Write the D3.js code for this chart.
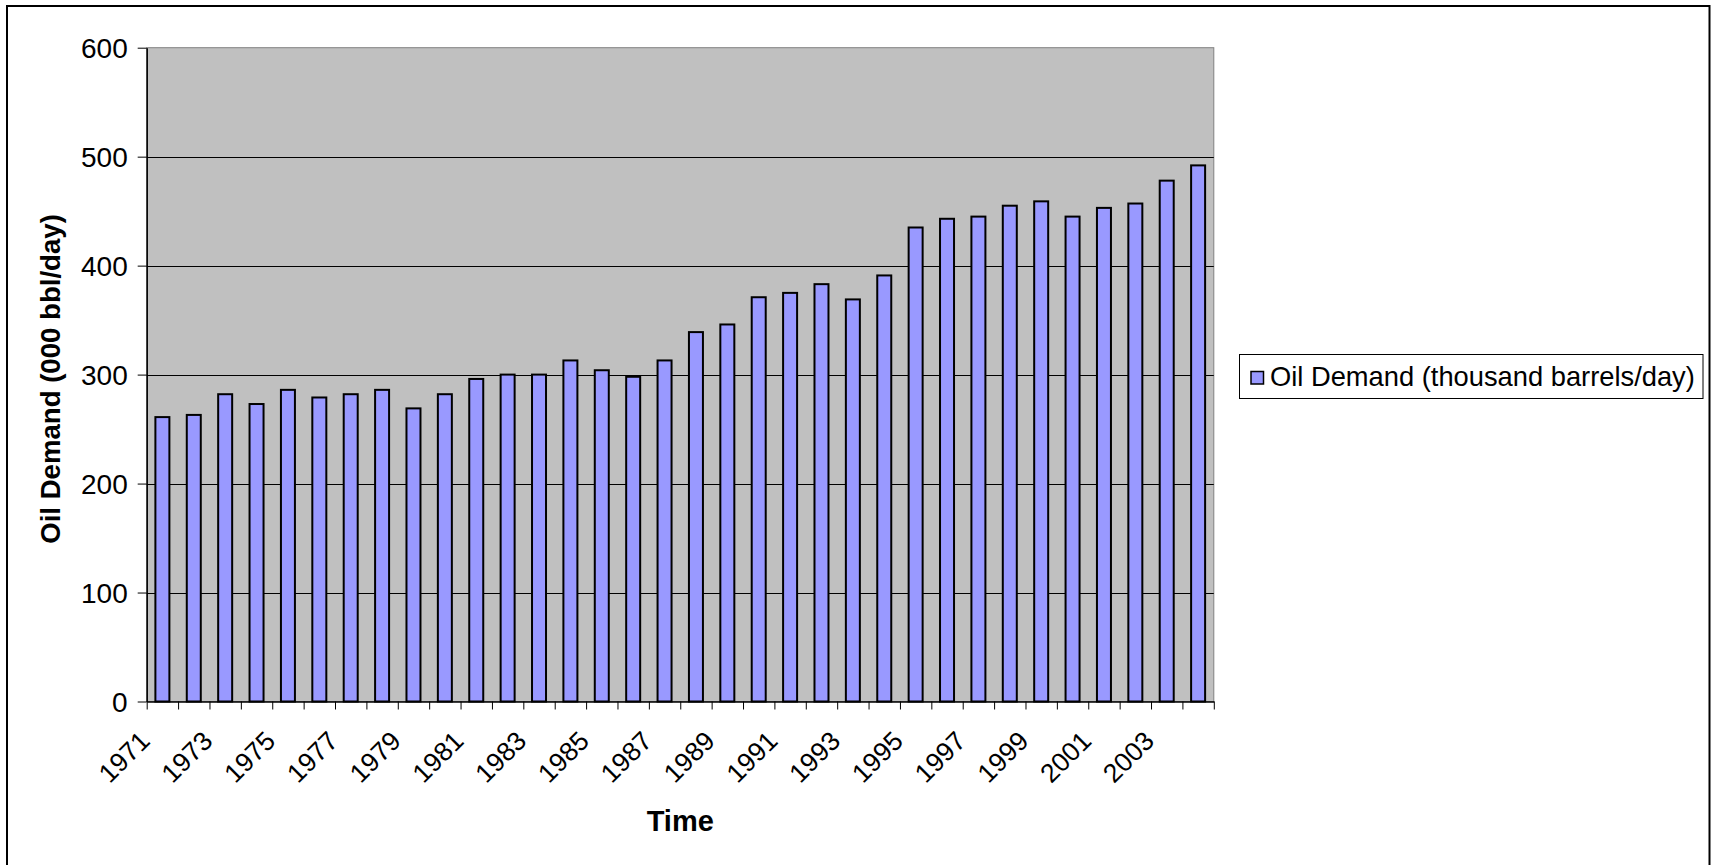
<!DOCTYPE html>
<html>
<head>
<meta charset="utf-8">
<script src="https://cdn.jsdelivr.net/npm/d3@7"></script>
<style>
  html, body { margin: 0; padding: 0; background: #ffffff; }
  svg { display: block; }
  text { font-family: "Liberation Sans", Arial, sans-serif; fill: #000; }
</style>
</head>
<body>
<svg id="chart" width="1713" height="865"></svg>
<script>
// Annual oil demand, thousand barrels per day
const years = [
  "1971","1972","1973","1974","1975","1976","1977","1978","1979","1980",
  "1981","1982","1983","1984","1985","1986","1987","1988","1989","1990",
  "1991","1992","1993","1994","1995","1996","1997","1998","1999","2000",
  "2001","2002","2003","2004"
];
const demand = [
  261, 263, 282, 273, 286, 279, 282, 286, 269, 282,
  296, 300, 300, 313, 304, 298, 313, 339, 346, 371,
  375, 383, 369, 391, 435, 443, 445, 455, 459, 445,
  453, 457, 478, 492
];
const yTicks = [0, 100, 200, 300, 400, 500, 600];
const xTickLabels = years.filter((d, i) => i % 2 === 0);
const seriesName = "Oil Demand (thousand barrels/day)";
const xTitle = "Time";
const yTitle = "Oil Demand (000 bbl/day)";

const svg = d3.select("#chart");
const plot = { left: 146.7, right: 1213.8, top: 47.7, bottom: 701.5 };

// outer chart frame
svg.append("rect")
  .attr("x", 7).attr("y", 6)
  .attr("width", 1702.5).attr("height", 900)
  .attr("fill", "#fff").attr("stroke", "#000").attr("stroke-width", 2);

const y = d3.scaleLinear().domain([0, 600]).range([plot.bottom, plot.top]);
const x = d3.scaleBand().domain(years)
  .range([plot.left, plot.right])
  .paddingInner(0.554).paddingOuter(0.277);
// category boundaries for the tick marks
const xb = d3.scaleLinear().domain([0, years.length]).range([plot.left, plot.right]);

// plot area
svg.append("rect")
  .attr("x", plot.left).attr("y", plot.top)
  .attr("width", plot.right - plot.left).attr("height", plot.bottom - plot.top)
  .attr("fill", "#c0c0c0").attr("stroke", "#808080").attr("stroke-width", 1);

// horizontal gridlines
svg.append("g").selectAll("line")
  .data(yTicks.filter(v => v > 0 && v < 600))
  .join("line")
  .attr("x1", plot.left).attr("x2", plot.right)
  .attr("y1", d => Math.round(y(d)) + 0.5).attr("y2", d => Math.round(y(d)) + 0.5)
  .attr("stroke", "#000").attr("stroke-width", 1);

// bars
svg.append("g").selectAll("rect")
  .data(years.map((yr, i) => ({ yr, v: demand[i] })))
  .join("rect")
  .attr("x", d => x(d.yr))
  .attr("y", d => y(d.v))
  .attr("width", x.bandwidth())
  .attr("height", d => y(0) - y(d.v))
  .attr("fill", "#9999ff")
  .attr("stroke", "#000")
  .attr("stroke-width", 2);

// y axis
const yAxis = svg.append("g")
  .attr("transform", `translate(${plot.left},0)`)
  .call(d3.axisLeft(y).tickValues(yTicks).tickSize(9).tickSizeOuter(0).tickPadding(10).tickFormat(d3.format("d")));
yAxis.select(".domain").attr("stroke", "#000").attr("stroke-width", 1.5);
yAxis.selectAll(".tick line").attr("stroke", "#000");
yAxis.selectAll(".tick text")
  .style("font-size", "28px")
  .attr("font-family", null)
  .attr("dy", "0.36em");

// x axis: tick marks on category boundaries
const xAxis = svg.append("g")
  .attr("transform", `translate(0,${plot.bottom})`)
  .call(d3.axisBottom(xb).tickValues(d3.range(years.length + 1)).tickSize(8).tickSizeOuter(0).tickFormat(""));
xAxis.select(".domain").attr("stroke", "#000").attr("stroke-width", 1.5);
xAxis.selectAll(".tick line").attr("stroke", "#000");

// rotated category labels
svg.append("g").selectAll("text")
  .data(xTickLabels)
  .join("text")
  .attr("text-anchor", "end")
  .attr("transform", d => `translate(${x(d) + x.bandwidth() / 2 - 11},${plot.bottom + 41}) rotate(-45)`)
  .style("font-size", "26.5px")
  .text(d => d);

// axis titles
svg.append("text")
  .attr("x", (plot.left + plot.right) / 2)
  .attr("y", 831)
  .attr("text-anchor", "middle")
  .style("font-size", "29px").style("font-weight", "bold")
  .text(xTitle);

svg.append("text")
  .attr("transform", `translate(60,379) rotate(-90)`)
  .attr("text-anchor", "middle")
  .style("font-size", "27.6px").style("font-weight", "bold")
  .text(yTitle);

// legend
const legend = svg.append("g");
legend.append("rect")
  .attr("x", 1239.5).attr("y", 354.5).attr("width", 463.5).attr("height", 44)
  .attr("fill", "#fff").attr("stroke", "#000").attr("stroke-width", 1);
legend.append("rect")
  .attr("x", 1251).attr("y", 371.5).attr("width", 12.5).attr("height", 12.5)
  .attr("fill", "#9999ff").attr("stroke", "#000").attr("stroke-width", 1.5);
legend.append("text")
  .attr("x", 1270).attr("y", 385.5)
  .style("font-size", "27.3px")
  .text(seriesName);
</script>
</body>
</html>
